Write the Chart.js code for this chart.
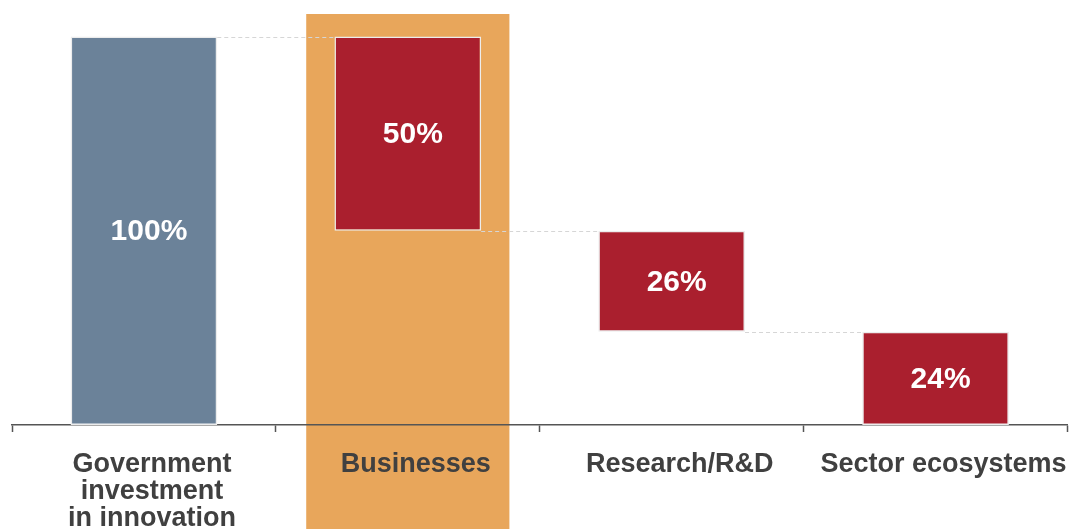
<!DOCTYPE html>
<html>
<head>
<meta charset="utf-8">
<title>Innovation investment waterfall</title>
<script src="https://cdn.jsdelivr.net/npm/chart.js@4.4.1/dist/chart.umd.min.js"></script>
<style>
    html, body { margin: 0; padding: 0; background: #ffffff; }
    #wrap { width: 1079px; height: 529px; position: relative; }
</style>
</head>
<body>
<div id="wrap"><canvas id="waterfallChart"></canvas></div>
<script>
const categories = [
    ['Government', 'investment', 'in innovation'],
    'Businesses',
    'Research/R&D',
    'Sector ecosystems'
];
const shares = [100, 50, 26, 24];
const barColors = ['#6B8299', '#AA1F2E', '#AA1F2E', '#AA1F2E'];
const highlightIndex = 1;
const yMax = 105.8;

// first bar is the total, the rest step down from it
function buildRanges(values) {
    const ranges = [[0, values[0]]];
    let level = values[0];
    for (let i = 1; i < values.length; i++) {
        ranges.push([level - values[i], level]);
        level -= values[i];
    }
    return ranges;
}

// orange column behind the highlighted category, drawn before the axis so labels sit on top
const highlightBand = {
    id: 'highlightBand',
    beforeDraw(chart) {
        const x = chart.scales.x;
        const ctx = chart.ctx;
        const step = x.getPixelForValue(1) - x.getPixelForValue(0);
        const w = step * 0.77;
        const cx = x.getPixelForValue(highlightIndex);
        ctx.save();
        ctx.fillStyle = '#E8A65B';
        ctx.fillRect(cx - w / 2, chart.chartArea.top, w, chart.height - chart.chartArea.top);
        ctx.restore();
    }
};

const connectors = {
    id: 'connectors',
    afterDatasetsDraw(chart) {
        const bars = chart.getDatasetMeta(0).data;
        const ranges = chart.data.datasets[0].data;
        const y = chart.scales.y;
        const ctx = chart.ctx;
        ctx.save();
        ctx.strokeStyle = '#d6d6d6';
        ctx.lineWidth = 1;
        ctx.setLineDash([4, 3]);
        for (let i = 0; i < bars.length - 1; i++) {
            const level = i === 0 ? ranges[0][1] : ranges[i][0];
            const py = Math.round(y.getPixelForValue(level)) + 0.5;
            ctx.beginPath();
            ctx.moveTo(bars[i].x + bars[i].width / 2, py);
            ctx.lineTo(bars[i + 1].x - bars[i + 1].width / 2, py);
            ctx.stroke();
        }
        ctx.restore();
    }
};

const valueLabels = {
    id: 'valueLabels',
    afterDatasetsDraw(chart) {
        const bars = chart.getDatasetMeta(0).data;
        const ctx = chart.ctx;
        ctx.save();
        ctx.fillStyle = '#ffffff';
        ctx.font = 'bold 30px "Liberation Sans", Arial, sans-serif';
        ctx.textAlign = 'center';
        ctx.textBaseline = 'middle';
        bars.forEach(function (bar, i) {
            ctx.fillText(shares[i] + '%', bar.x + 5, (bar.y + bar.base) / 2 + 1);
        });
        ctx.restore();
    }
};

new Chart(document.getElementById('waterfallChart'), {
    type: 'bar',
    data: {
        labels: categories,
        datasets: [{
            data: buildRanges(shares),
            backgroundColor: barColors,
            borderColor: '#ececec',
            borderWidth: 1.5,
            borderSkipped: false,
            barPercentage: 1,
            categoryPercentage: 0.556
        }]
    },
    options: {
        responsive: true,
        maintainAspectRatio: false,
        animation: false,
        layout: {
            padding: { top: 14, left: 12, right: 11, bottom: 0 }
        },
        plugins: {
            legend: { display: false },
            tooltip: { enabled: false }
        },
        scales: {
            x: {
                grid: {
                    drawOnChartArea: false,
                    drawTicks: true,
                    tickLength: 7,
                    tickColor: '#555555',
                    tickWidth: 1.5
                },
                border: { color: '#555555', width: 1.5 },
                ticks: {
                    color: '#404040',
                    padding: 19,
                    labelOffset: 8,
                    maxRotation: 0,
                    autoSkip: false,
                    font: {
                        family: '"Liberation Sans", Arial, sans-serif',
                        size: 27,
                        weight: 'bold',
                        lineHeight: 1
                    }
                },
                afterFit(scale) {
                    scale.height = 104;
                }
            },
            y: {
                display: false,
                min: 0,
                max: yMax
            }
        }
    },
    plugins: [highlightBand, connectors, valueLabels]
});
</script>
</body>
</html>
